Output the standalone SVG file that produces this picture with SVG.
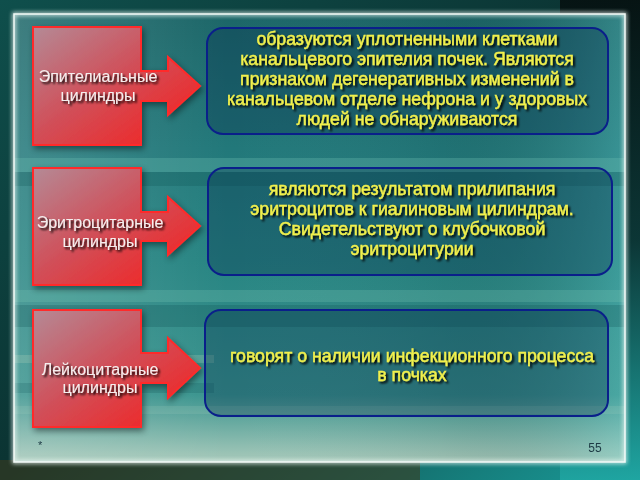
<svg xmlns="http://www.w3.org/2000/svg" width="640" height="480" viewBox="0 0 640 480">
  <defs>
    <linearGradient id="outer" x1="0" y1="0" x2="1" y2="1">
      <stop offset="0" stop-color="#0f4f4c"/>
      <stop offset="0.5" stop-color="#0b3332"/>
      <stop offset="1" stop-color="#1a9a98"/>
    </linearGradient>
    <linearGradient id="outerR" x1="0" y1="0" x2="0" y2="1">
      <stop offset="0" stop-color="#050c0c"/>
      <stop offset="0.5" stop-color="#0a2a2a"/>
      <stop offset="1" stop-color="#20a8a4"/>
    </linearGradient>
    <linearGradient id="panel" x1="0" y1="0" x2="0" y2="1">
      <stop offset="0" stop-color="#1c6668"/>
      <stop offset="0.3" stop-color="#22787a"/>
      <stop offset="0.55" stop-color="#278482"/>
      <stop offset="0.85" stop-color="#3a948e"/>
      <stop offset="1" stop-color="#a9cabb"/>
    </linearGradient>
    <linearGradient id="panelH" x1="0" y1="0" x2="1" y2="0">
      <stop offset="0" stop-color="#ffffff" stop-opacity="0.15"/>
      <stop offset="0.35" stop-color="#ffffff" stop-opacity="0"/>
      <stop offset="0.7" stop-color="#000000" stop-opacity="0.05"/>
      <stop offset="1" stop-color="#7ee8e8" stop-opacity="0.25"/>
    </linearGradient>
    <linearGradient id="redbox" x1="0" y1="0" x2="1" y2="1">
      <stop offset="0" stop-color="#b48a96"/>
      <stop offset="0.45" stop-color="#d0505a"/>
      <stop offset="0.8" stop-color="#ea2e30"/>
      <stop offset="1" stop-color="#f22020"/>
    </linearGradient>
    <filter id="blur2" x="-10%" y="-10%" width="120%" height="120%">
      <feGaussianBlur stdDeviation="2"/>
    </filter>
    <filter id="shadow" x="-20%" y="-20%" width="140%" height="140%">
      <feGaussianBlur in="SourceAlpha" stdDeviation="3"/>
      <feOffset dx="2" dy="3" result="b"/>
      <feComponentTransfer><feFuncA type="linear" slope="0.45"/></feComponentTransfer>
      <feMerge><feMergeNode/><feMergeNode in="SourceGraphic"/></feMerge>
    </filter>
    <filter id="tshadow" x="-10%" y="-30%" width="120%" height="160%">
      <feGaussianBlur in="SourceAlpha" stdDeviation="1.3"/>
      <feOffset dx="1.5" dy="1.5" result="b"/>
      <feComponentTransfer><feFuncA type="linear" slope="1"/></feComponentTransfer>
      <feMerge><feMergeNode/><feMergeNode in="SourceGraphic"/></feMerge>
    </filter>
  </defs>
  <style>
    .red { fill: url(#redbox); stroke: #ff2a2a; stroke-width: 2; stroke-linejoin: miter; }
    .blue { fill: #0a3050; fill-opacity: 0.33; stroke: #0a1f8a; stroke-width: 2; }
    .lbl { font-family: "Liberation Sans", Arial, sans-serif; font-size: 16px; fill: #f4eeee; text-anchor: middle; }
    .txt { font-family: "Liberation Sans", Arial, sans-serif; font-size: 17.7px; fill: #f2f04c; stroke: #f2f04c; stroke-width: 0.35; text-anchor: middle; }
    .foot { font-family: "Liberation Sans", Arial, sans-serif; fill: #1d3a44; }
  </style>

  <!-- background -->
  <rect x="0" y="0" width="640" height="480" fill="url(#outer)"/>
  <rect x="560" y="0" width="80" height="480" fill="url(#outerR)" opacity="0.8"/>
  <rect x="0" y="460" width="420" height="20" fill="#3a3a1e" opacity="0.6"/>
  <rect x="14" y="14" width="611" height="448" fill="url(#panel)"/>
  <rect x="14" y="14" width="611" height="448" fill="url(#panelH)"/>
  <!-- horizontal bands -->
  <g opacity="0.45">
    <rect x="14" y="158" width="611" height="14" fill="#6cc0b4" opacity="0.7"/>
    <rect x="14" y="172" width="611" height="14" fill="#0c4e50" opacity="0.5"/>
    <rect x="14" y="290" width="611" height="12" fill="#78c4b6" opacity="0.6"/>
    <rect x="14" y="305" width="611" height="22" fill="#0a4a50" opacity="0.5"/>
    <rect x="14" y="355" width="200" height="8" fill="#c8dcc0" opacity="0.5"/>
    <rect x="14" y="383" width="200" height="10" fill="#0a4a50" opacity="0.4"/>
    <rect x="14" y="406" width="611" height="8" fill="#a8d0c0" opacity="0.4"/>
  </g>
  <rect x="14" y="14" width="611" height="448" fill="none" stroke="#e8f6f2" stroke-width="3" filter="url(#blur2)"/>
  <rect x="14" y="14" width="611" height="448" fill="none" stroke="#f4fbf8" stroke-width="1.5"/>

  <!-- connectors: the arrows are part of the left shapes -->
  <g id="connectors"/>

  <g id="left1" filter="url(#shadow)">
    <path class="red" d="M33,27 H141 V71 H168 V57 L200,86 L168,115 V101 H141 V145 H33 Z"/>
    <text class="lbl" filter="url(#tshadow)"><tspan x="98" y="82">Эпителиальные</tspan><tspan x="98" y="101">цилиндры</tspan></text>
  </g>
  <g id="right1">
    <rect class="blue" x="207" y="28" width="401" height="106" rx="16"/>
    <text class="txt" filter="url(#tshadow)"><tspan x="407" y="45">образуются уплотненными клетками</tspan><tspan x="407" y="65">канальцевого эпителия почек. Являются</tspan><tspan x="407" y="85">признаком дегенеративных изменений в</tspan><tspan x="407" y="105">канальцевом отделе нефрона и у здоровых</tspan><tspan x="407" y="125">людей не обнаруживаются</tspan></text>
  </g>

  <g id="left2" filter="url(#shadow)">
    <path class="red" d="M33,168 H141 V212 H168 V197 L200,226 L168,255 V241 H141 V285 H33 Z"/>
    <text class="lbl" filter="url(#tshadow)"><tspan x="100" y="228">Эритроцитарные</tspan><tspan x="100" y="247">цилиндры</tspan></text>
  </g>
  <g id="right2">
    <rect class="blue" x="208" y="168" width="404" height="107" rx="16"/>
    <text class="txt" filter="url(#tshadow)"><tspan x="412" y="195">являются результатом прилипания</tspan><tspan x="412" y="215">эритроцитов к гиалиновым цилиндрам.</tspan><tspan x="412" y="235">Свидетельствуют о клубочковой</tspan><tspan x="412" y="255">эритроцитурии</tspan></text>
  </g>

  <g id="left3" filter="url(#shadow)">
    <path class="red" d="M33,310 H141 V353 H168 V338 L200,368 L168,398 V383 H141 V427 H33 Z"/>
    <text class="lbl" filter="url(#tshadow)"><tspan x="100" y="375">Лейкоцитарные</tspan><tspan x="100" y="393">цилиндры</tspan></text>
  </g>
  <g id="right3">
    <rect class="blue" x="205" y="310" width="403" height="106" rx="16"/>
    <text class="txt" filter="url(#tshadow)"><tspan x="412" y="362">говорят о наличии инфекционного процесса</tspan><tspan x="412" y="381">в почках</tspan></text>
  </g>

  <text class="foot" x="38" y="449" font-size="11">*</text>
  <text class="foot" x="595" y="452" font-size="12" text-anchor="middle">55</text>
</svg>
